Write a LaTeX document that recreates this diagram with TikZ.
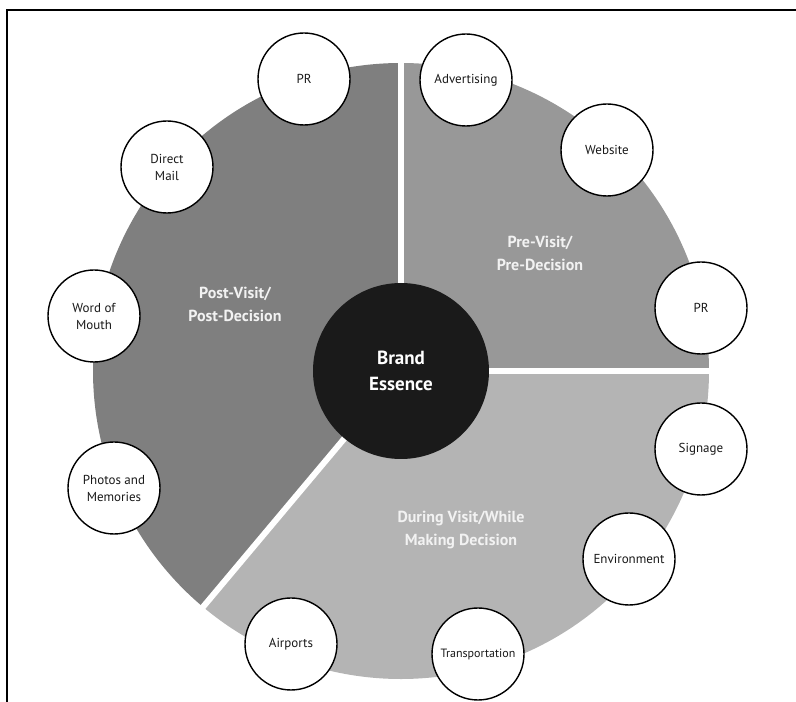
\documentclass[tikz,border=0pt]{standalone}
\usepackage{fontspec}
\setmainfont{PT Sans}
\usetikzlibrary{positioning}
\definecolor{postgray}{HTML}{7F7F7F}
\definecolor{pregray}{HTML}{989898}
\definecolor{duringgray}{HTML}{B4B4B4}
\definecolor{coregray}{HTML}{1A1A1A}
\definecolor{labelwhite}{HTML}{F2F2F2}

\begin{document}
\begin{tikzpicture}[x=1pt,y=1pt,
                       touch node/.style={circle,draw,fill=white,line width=1.4pt,
                                         inner sep=1pt,minimum size=92pt,align=center,
                                         text=black!90,font=\fontsize{13}{17}\selectfont},
                       phase label/.style={align=center,text=labelwhite,
                                         font=\bfseries\fontsize{16}{23}\selectfont}
                      ]
   \useasboundingbox (0,0) rectangle (796,702);
   \draw[line width=2pt] (7,0) -- (7,692) -- (796,692);

   % the three phases
   \coordinate (c) at (401,331);
   \fill[pregray] (c) -- ++(0:308pt) arc (0:90:308pt) -- cycle;
   \fill[postgray] (c) -- ++(90:308pt) arc (90:230:308pt) -- cycle;
   \fill[duringgray] (c) -- ++(230:308pt) arc (230:360:308pt) -- cycle;
   \foreach \a in {0,90,230}
      \draw[white,line width=6pt] (c) -- ++(\a:312pt);

   \node[circle,fill=coregray,minimum size=176pt,text=white,align=center,
         font=\bfseries\fontsize{19}{26}\selectfont] (brand) at (c) {Brand\\Essence};

   \node[phase label] (pre) at (540,449) {Pre-Visit/\\Pre-Decision};
   \node[phase label] (post) at (235,398) {Post-Visit/\\Post-Decision};
   \node[phase label] (during) at (461,172) {During Visit/While\\Making Decision};

   % touch points
   \node[touch node] (prtop) at (304,623) {PR};
   \node[touch node] (adv) at (466,622) {Advertising};
   \node[touch node] (web) at (607,552) {Website};
   \node[touch node] (prright) at (701,394) {PR};
   \node[touch node] (sign) at (701,253) {Signage};
   \node[touch node] (env) at (629,143) {Environment};
   \node[touch node,font=\fontsize{12}{16}\selectfont] (trans) at (478,48) {Transportation};
   \node[touch node] (air) at (291,58) {Airports};
   \node[touch node] (photo) at (114,214) {Photos and\\Memories};
   \node[touch node] (word) at (94,386) {Word of\\Mouth};
   \node[touch node] (mail) at (167,535) {Direct\\Mail};
\end{tikzpicture}
\end{document}
